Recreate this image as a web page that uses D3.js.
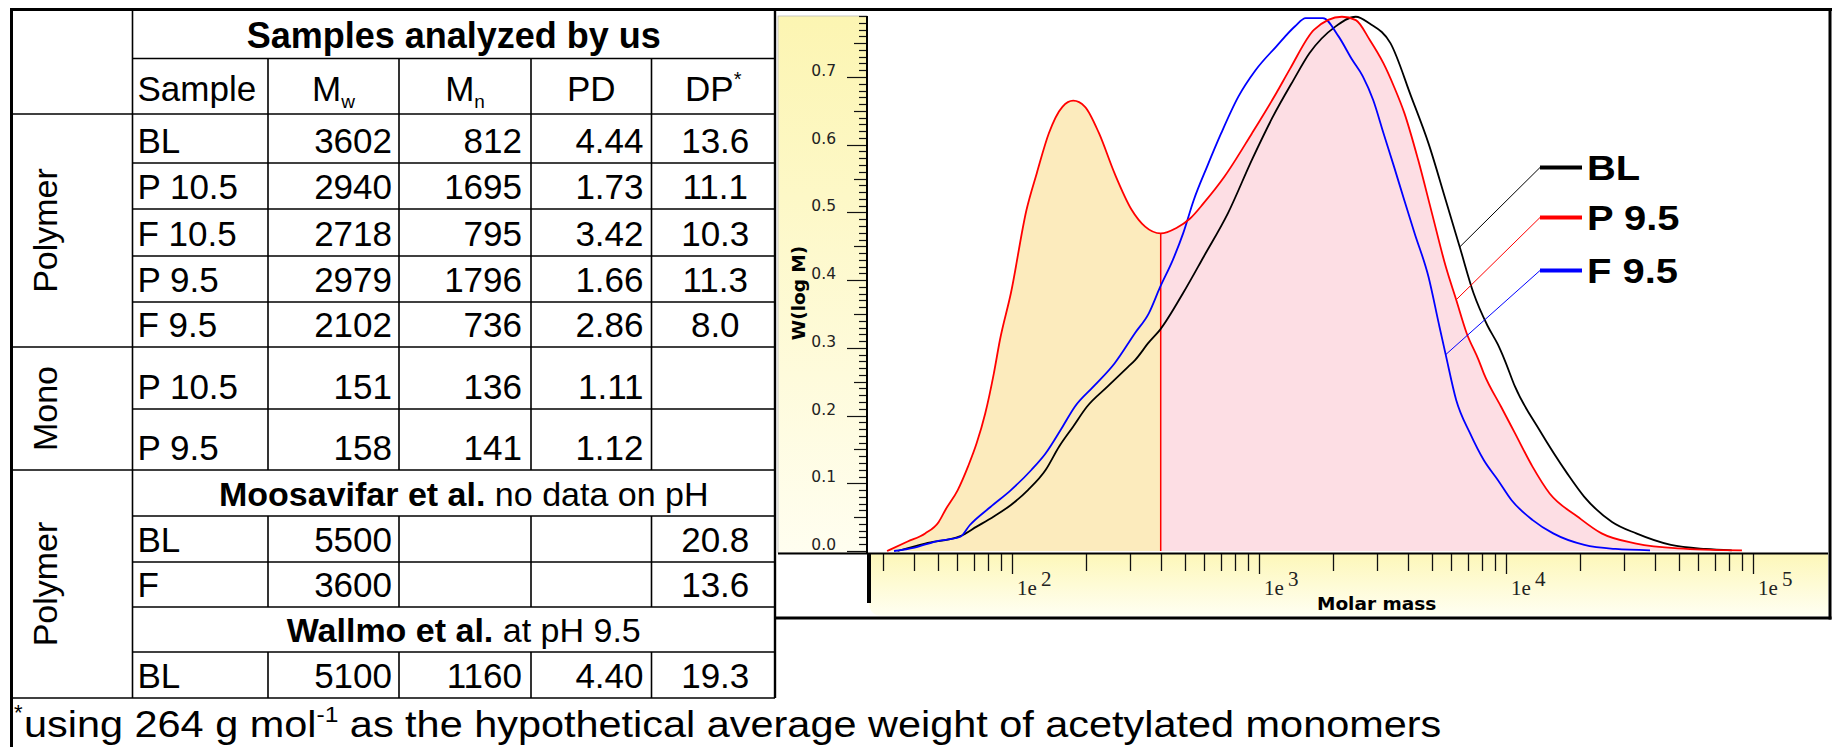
<!DOCTYPE html>
<html>
<head>
    <meta charset="utf-8">
    <title>Samples analyzed by us / molar mass distribution</title>
</head>
<body>
<style type="text/css">
    body {
        margin: 0;
        background: #fff;
    }

    #renderer {
        display: block;
        width: 1833px;
        height: 747px;
        background: #FFF
    }
</style>
<script type="text/javascript" src="https://cdnjs.cloudflare.com/ajax/libs/d3/7.8.5/d3.min.js"></script>
<svg id='renderer' width="1833" height="747"></svg>

<script type="text/javascript">
    // ---------- table values ----------
    var sampleNames = ['BL', 'P 10.5', 'F 10.5', 'P 9.5', 'F 9.5', 'P 10.5', 'P 9.5', 'BL', 'F', 'BL'];
    var mwValues = ['3602', '2940', '2718', '2979', '2102', '151', '158', '5500', '3600', '5100'];
    var mnValues = ['812', '1695', '795', '1796', '736', '136', '141', '', '', '1160'];
    var pdValues = ['4.44', '1.73', '3.42', '1.66', '2.86', '1.11', '1.12', '', '', '4.40'];
    var dpValues = ['13.6', '11.1', '10.3', '11.3', '8.0', '', '', '20.8', '13.6', '19.3'];
    var groupNames = ['Polymer', 'Mono', 'Polymer'];

    // ---------- distribution curves: [molar mass, W(log M)] ----------
    var blCurve = [[34.4, 0], [44.5, 0.011], [61.8, 0.022], [71.9, 0.036], [84.4, 0.051], [99, 0.068],
        [116, 0.090], [137, 0.120], [155, 0.154], [177, 0.184], [201, 0.213], [244, 0.243], [295, 0.272],
        [315, 0.282], [358, 0.308], [398, 0.327], [493, 0.381], [598, 0.435], [749, 0.499], [937, 0.578],
        [1137, 0.641], [1377, 0.695], [1600, 0.735], [2031, 0.774], [2466, 0.789], [2805, 0.779],
        [3405, 0.750], [4132, 0.671], [4855, 0.602], [5703, 0.518], [6497, 0.449], [7386, 0.381],
        [8409, 0.333], [9268, 0.305], [9878, 0.282], [10868, 0.243], [13640, 0.179], [17660, 0.115],
        [20750, 0.080], [26870, 0.043], [33680, 0.026], [46530, 0.009], [64240, 0.003], [82000, 0.001]];

    var p95Curve = [[31.2, 0], [37.8, 0.014], [44.5, 0.026], [50.5, 0.043], [53.8, 0.061], [60.3, 0.090],
        [66.4, 0.125], [71.9, 0.159], [77.9, 0.203], [84.4, 0.262], [89.4, 0.312], [99, 0.381],
        [114.5, 0.504], [126, 0.558], [141, 0.617], [160, 0.656], [177, 0.665], [197.5, 0.656],
        [225, 0.617], [260, 0.558], [305, 0.504], [346, 0.479], [400, 0.469], [463, 0.477], [526, 0.491],
        [598, 0.514], [725, 0.553], [937, 0.617], [1174, 0.676], [1335, 0.712], [1673, 0.770],
        [2166, 0.789], [2466, 0.784], [2805, 0.755], [3192, 0.720], [3518, 0.686], [3875, 0.647],
        [4406, 0.578], [5013, 0.499], [5703, 0.420], [6285, 0.371], [6925, 0.322], [7749, 0.282],
        [8136, 0.262], [9552, 0.213], [10868, 0.174], [12784, 0.125], [15023, 0.085], [19455, 0.051],
        [24380, 0.026], [33680, 0.011], [49630, 0.004], [90190, 0.001]];

    var f95Curve = [[33.3, 0], [40.3, 0.005], [48.9, 0.014], [61.8, 0.021], [67.4, 0.038], [81.8, 0.065],
        [99, 0.090], [120, 0.120], [136.7, 0.144], [160.5, 0.184], [179.6, 0.213], [214, 0.243],
        [260, 0.277], [315, 0.322], [358, 0.351], [398, 0.390], [448, 0.430], [493, 0.469], [544, 0.518],
        [617, 0.568], [703, 0.617], [825, 0.671], [968, 0.710], [1174, 0.745], [1400, 0.775],
        [1545, 0.787], [1815, 0.787], [2099, 0.760], [2388, 0.725], [2632, 0.701], [2899, 0.666],
        [3192, 0.617], [3518, 0.568], [3875, 0.518], [4268, 0.469], [4855, 0.405], [5350, 0.335],
        [5700, 0.290], [6285, 0.223], [7149, 0.174], [8136, 0.134], [9265, 0.105], [10537, 0.075],
        [12784, 0.046], [15525, 0.026], [20750, 0.009], [27740, 0.003], [38280, 0.001]];

    var seriesNames = ['BL', 'P 9.5', 'F 9.5'];
    var seriesColors = ['#000000', '#ff0000', '#0000ff'];
    // point on each curve where the legend leader line starts
    var legendAnchors = [[6497, 0.449], [6285, 0.371], [5700, 0.290]];
    var cutoffMass = 400;
    var yTickLabels = ['0.0', '0.1', '0.2', '0.3', '0.4', '0.5', '0.6', '0.7'];
    var xTickExponents = [2, 3, 4, 5];

    var root = d3.select('#renderer');
    var tableFont = 'Liberation Sans, Arial, sans-serif';
    var cellSize = 35;

    // ---------- table layout ----------
    var rowEdges = [9.5, 58.5, 114, 163, 209, 256, 302, 347, 409, 470, 516, 562, 607, 652, 698];
    var colEdges = [11.5, 132.5, 268, 399, 531, 651.5, 775];
    var dataRows = [2, 3, 4, 5, 6, 7, 8, 10, 11, 13];
    var groupSpans = [[2, 6], [7, 8], [9, 13]];
    var fullWidthEdges = [0, 2, 7, 9, 14];
    var spanRows = [9, 12];

    function addText(txt, xPos, yPos, anchor, size, weight) {
        return root.append('text')
            .text(txt)
            .attr('x', xPos)
            .attr('y', yPos)
            .attr('text-anchor', anchor)
            .attr('font-family', tableFont)
            .attr('font-size', size)
            .attr('font-weight', weight || 'normal')
            .attr('fill', '#000');
    }

    function hLine(x1, x2, yPos, w) {
        root.append('line')
            .attr('x1', x1).attr('x2', x2)
            .attr('y1', yPos).attr('y2', yPos)
            .attr('stroke', '#000').attr('stroke-width', w);
    }

    function vLine(xPos, y1, y2, w) {
        root.append('line')
            .attr('x1', xPos).attr('x2', xPos)
            .attr('y1', y1).attr('y2', y2)
            .attr('stroke', '#000').attr('stroke-width', w);
    }

    // horizontal rules
    for (var i = 1; i < rowEdges.length; i++) {
        var startX = fullWidthEdges.indexOf(i) >= 0 ? colEdges[0] : colEdges[1];
        hLine(startX, colEdges[6], rowEdges[i], 1.6);
    }
    // top rule runs over the table and the chart frame
    hLine(colEdges[0] - 1.5, 1832, rowEdges[0], 3);

    // vertical rules
    vLine(colEdges[0], rowEdges[0] - 1.5, 747, 3);
    vLine(colEdges[1], rowEdges[0], rowEdges[14], 1.6);
    for (var c = 2; c <= 5; c++) {
        vLine(colEdges[c], rowEdges[1], rowEdges[9], 1.6);
        vLine(colEdges[c], rowEdges[10], rowEdges[12], 1.6);
        vLine(colEdges[c], rowEdges[13], rowEdges[14], 1.6);
    }
    vLine(colEdges[6], rowEdges[0], rowEdges[14], 2.4);

    // title row
    addText('Samples analyzed by us', (colEdges[1] + colEdges[6]) / 2, rowEdges[1] - 11, 'middle', 36, 'bold');

    // header row
    var headerY = rowEdges[2] - 13;
    addText('Sample', colEdges[1] + 5, headerY, 'start', cellSize);
    var mwHead = addText('M', (colEdges[2] + colEdges[3]) / 2, headerY, 'middle', cellSize);
    mwHead.append('tspan').text('w').attr('font-size', 19).attr('dy', 7);
    var mnHead = addText('M', (colEdges[3] + colEdges[4]) / 2, headerY, 'middle', cellSize);
    mnHead.append('tspan').text('n').attr('font-size', 19).attr('dy', 7);
    addText('PD', (colEdges[4] + colEdges[5]) / 2, headerY, 'middle', cellSize);
    var dpHead = addText('DP', (colEdges[5] + colEdges[6]) / 2, headerY, 'middle', cellSize);
    dpHead.append('tspan').text('*').attr('font-size', 20).attr('dy', -15);

    // data rows
    for (var r = 0; r < dataRows.length; r++) {
        var baseY = rowEdges[dataRows[r] + 1] - 10;
        addText(sampleNames[r], colEdges[1] + 5, baseY, 'start', cellSize);
        addText(mwValues[r], colEdges[3] - 7, baseY, 'end', cellSize);
        addText(mnValues[r], colEdges[4] - 9, baseY, 'end', cellSize);
        addText(pdValues[r], colEdges[5] - 8, baseY, 'end', cellSize);
        addText(dpValues[r], (colEdges[5] + colEdges[6]) / 2 + 2, baseY, 'middle', cellSize);
    }

    // literature rows spanning the table
    var spanTexts = [['Moosavifar et al.', ' no data on pH'], ['Wallmo et al.', ' at pH 9.5']];
    for (var s = 0; s < spanRows.length; s++) {
        var spanText = addText('', (colEdges[1] + colEdges[6]) / 2 + 10, rowEdges[spanRows[s] + 1] - 10, 'middle', 34);
        spanText.append('tspan').text(spanTexts[s][0]).attr('font-weight', 'bold');
        spanText.append('tspan').text(spanTexts[s][1]);
    }

    // group labels in the first column
    for (var g = 0; g < groupSpans.length; g++) {
        var cy = (rowEdges[groupSpans[g][0]] + rowEdges[groupSpans[g][1] + 1]) / 2;
        addText(groupNames[g], 0, 0, 'middle', 34)
            .attr('transform', 'translate(57,' + cy + ') rotate(-90)');
    }

    // footnote, slightly widened like the source image
    root.append('text').text('*')
        .attr('x', 14).attr('y', 720)
        .attr('font-family', tableFont).attr('font-size', 22);
    var note = addText('using 264 g mol', 0, 0, 'start', 37)
        .attr('transform', 'translate(24,737) scale(1.12,1)');
    note.append('tspan').text('-1').attr('font-size', 22).attr('dy', -15);
    note.append('tspan').text(' as the hypothetical average weight of acetylated monomers').attr('dy', 15);

    // ---------- chart ----------
    var plotLeft = 869, plotRight = 1828, plotTop = 15, axisY = 553;
    var x = d3.scaleLog().domain([100, 100000]).range([1012, 1753]);
    var y = d3.scaleLinear().domain([0, 0.7]).range([551, 77]);

    // chart frame
    vLine(1830, rowEdges[0] - 1.5, 619.5, 3);
    hLine(colEdges[6] - 1, 1831.5, 618, 3);

    var defs = root.append('defs');
    var gradY = defs.append('linearGradient').attr('id', 'yStrip')
        .attr('x1', 0).attr('y1', 0).attr('x2', 0).attr('y2', 1);
    gradY.append('stop').attr('offset', '0%').attr('stop-color', '#fcf5b2');
    gradY.append('stop').attr('offset', '100%').attr('stop-color', '#fffef0');
    var gradX = defs.append('linearGradient').attr('id', 'xStrip')
        .attr('x1', 0).attr('y1', 0).attr('x2', 0).attr('y2', 1);
    gradX.append('stop').attr('offset', '0%').attr('stop-color', '#fdf7b8');
    gradX.append('stop').attr('offset', '100%').attr('stop-color', '#fffff2');

    defs.append('clipPath').attr('id', 'plotClip')
        .append('rect')
        .attr('x', plotLeft).attr('y', plotTop)
        .attr('width', plotRight - plotLeft).attr('height', axisY - plotTop);
    defs.append('clipPath').attr('id', 'lowClip')
        .append('rect')
        .attr('x', plotLeft).attr('y', plotTop)
        .attr('width', x(cutoffMass) - plotLeft).attr('height', axisY - plotTop);
    defs.append('clipPath').attr('id', 'highClip')
        .append('rect')
        .attr('x', x(cutoffMass)).attr('y', plotTop)
        .attr('width', plotRight - x(cutoffMass)).attr('height', axisY - plotTop);

    // axis strips
    root.append('rect')
        .attr('x', 778).attr('y', 16)
        .attr('width', plotLeft - 2 - 778).attr('height', axisY - 16)
        .attr('fill', 'url(#yStrip)')
        .attr('stroke', '#bbb').attr('stroke-width', 0.8);
    root.append('path')
        .attr('d', 'M' + plotLeft + ',' + axisY + 'H' + plotRight + 'V616H' + (plotLeft + 14)
            + 'Q' + plotLeft + ',616 ' + plotLeft + ',602Z')
        .attr('fill', 'url(#xStrip)');

    // red sample filled area, split at the cutoff mass
    var area = d3.area()
        .x(function (d) { return x(d[0]); })
        .y0(y(0))
        .y1(function (d) { return y(d[1]); })
        .curve(d3.curveMonotoneX);
    root.append('path').datum(p95Curve)
        .attr('d', area)
        .attr('fill', '#fcebbd')
        .attr('clip-path', 'url(#lowClip)');
    root.append('path').datum(p95Curve)
        .attr('d', area)
        .attr('fill', '#fddee4')
        .attr('clip-path', 'url(#highClip)');

    var cutoffPoint = p95Curve.filter(function (d) { return d[0] === cutoffMass; })[0];
    root.append('line')
        .attr('x1', x(cutoffMass)).attr('x2', x(cutoffMass))
        .attr('y1', y(0)).attr('y2', y(cutoffPoint[1]))
        .attr('stroke', '#ff0000').attr('stroke-width', 1.5);

    // curves
    var line = d3.line()
        .x(function (d) { return x(d[0]); })
        .y(function (d) { return y(d[1]); })
        .curve(d3.curveMonotoneX);
    var curves = [blCurve, f95Curve, p95Curve];
    var curveColors = [seriesColors[0], seriesColors[2], seriesColors[1]];
    for (var k = 0; k < curves.length; k++) {
        root.append('path').datum(curves[k])
            .attr('d', line)
            .attr('fill', 'none')
            .attr('stroke', curveColors[k])
            .attr('stroke-width', 1.8)
            .attr('clip-path', 'url(#plotClip)');
    }

    // y axis: ticks every 0.01
    var yTicks = d3.range(0, 80);
    root.selectAll('.ytick').data(yTicks).enter().append('line')
        .attr('x1', function (d) { return 867 - (d % 10 === 0 ? 20 : (d % 5 === 0 ? 13 : 8)); })
        .attr('x2', 867)
        .attr('y1', function (d) { return Math.round(y(d / 100)) + 0.5; })
        .attr('y2', function (d) { return Math.round(y(d / 100)) + 0.5; })
        .attr('stroke', '#111').attr('stroke-width', 1.2);
    for (var t = 0; t < yTickLabels.length; t++) {
        root.append('text')
            .text(yTickLabels[t])
            .attr('x', 836)
            .attr('y', y(+yTickLabels[t]) - 1)
            .attr('text-anchor', 'end')
            .attr('font-family', 'DejaVu Sans, Verdana, sans-serif')
            .attr('font-size', 15.5)
            .attr('fill', '#222');
    }
    vLine(867, 16, axisY, 2);
    root.append('text')
        .text('W(log M)')
        .attr('transform', 'translate(805,293) rotate(-90)')
        .attr('text-anchor', 'middle')
        .attr('font-family', 'DejaVu Sans, Verdana, sans-serif')
        .attr('font-weight', 'bold')
        .attr('font-size', 18.5);

    // x axis: log ticks
    var xTicks = [];
    for (var e = 1; e <= 4; e++) {
        for (var m = 1; m <= 9; m++) {
            var v = m * Math.pow(10, e);
            if (v >= 30) xTicks.push({value: v, major: m === 1});
        }
    }
    xTicks.push({value: 100000, major: true});
    root.selectAll('.xtick').data(xTicks).enter().append('line')
        .attr('x1', function (d) { return Math.round(x(d.value)) + 0.5; })
        .attr('x2', function (d) { return Math.round(x(d.value)) + 0.5; })
        .attr('y1', axisY)
        .attr('y2', function (d) { return d.major ? axisY + 21 : axisY + 18; })
        .attr('stroke', '#111').attr('stroke-width', 1.3);
    hLine(778, plotRight, axisY + 0.5, 2);
    vLine(869, axisY, 603, 4);

    for (var xe = 0; xe < xTickExponents.length; xe++) {
        var tickX = x(Math.pow(10, xTickExponents[xe]));
        root.append('text')
            .text('1e')
            .attr('x', tickX + 5).attr('y', 595)
            .attr('font-family', 'Liberation Serif, Times New Roman, serif')
            .attr('font-size', 21).attr('fill', '#222');
        root.append('text')
            .text(xTickExponents[xe])
            .attr('x', tickX + 29).attr('y', 586)
            .attr('font-family', 'Liberation Serif, Times New Roman, serif')
            .attr('font-size', 21).attr('fill', '#222');
    }
    root.append('text')
        .text('Molar mass')
        .attr('x', 1317).attr('y', 610)
        .attr('font-family', 'DejaVu Sans, Verdana, sans-serif')
        .attr('font-weight', 'bold')
        .attr('font-size', 18.5);

    // legend with leader lines
    var legendY = [167.5, 217.5, 270.5];
    for (var n = 0; n < seriesNames.length; n++) {
        var ax = x(legendAnchors[n][0]), ay = y(legendAnchors[n][1]);
        root.append('line')
            .attr('x1', ax).attr('y1', ay)
            .attr('x2', 1540).attr('y2', legendY[n])
            .attr('stroke', seriesColors[n]).attr('stroke-width', 1);
        root.append('line')
            .attr('x1', 1540).attr('y1', legendY[n])
            .attr('x2', 1582).attr('y2', legendY[n])
            .attr('stroke', seriesColors[n]).attr('stroke-width', 4);
        root.append('text')
            .text(seriesNames[n])
            .attr('transform', 'translate(1587,' + (legendY[n] + 12.5) + ') scale(1.14,1)')
            .attr('font-family', tableFont)
            .attr('font-weight', 'bold')
            .attr('font-size', 35);
    }
</script>
</body>
</html>
